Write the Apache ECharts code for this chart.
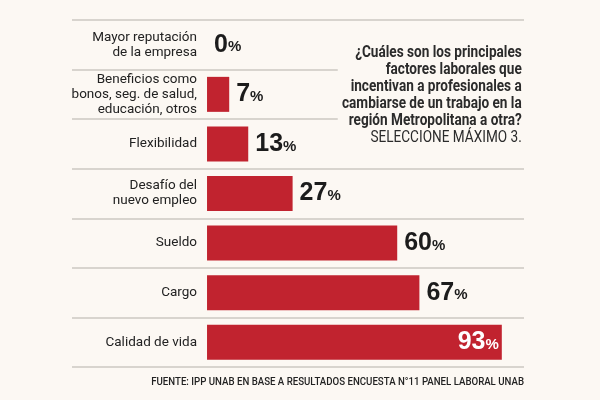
<!DOCTYPE html>
<html>
<head>
<meta charset="utf-8">
<script src="https://cdn.jsdelivr.net/npm/echarts@6/dist/echarts.min.js"></script>
<style>
  html, body { margin: 0; background: #fcf8f3; }
  #chart { width: 600px; height: 400px; }
</style>
</head>
<body>
<div id="chart"></div>
<script>
// datos
const categories = [
  'Mayor reputación\nde la empresa',
  'Beneficios como\nbonos, seg. de salud,\neducación, otros',
  'Flexibilidad',
  'Desafío del\nnuevo empleo',
  'Sueldo',
  'Cargo',
  'Calidad de vida'
]
const values = [0, 7, 13, 27, 60, 67, 93]
const questionLines = [
  '¿Cuáles son los principales',
  'factores laborales que',
  'incentivan a profesionales a',
  'cambiarse de un trabajo en la',
  'región Metropolitana a otra?'
]
const questionNote = 'SELECCIONE MÁXIMO 3.'
const sourceText = 'FUENTE: IPP UNAB EN BASE A RESULTADOS ENCUESTA N°11 PANEL LABORAL UNAB'

const bg = '#fcf8f3'
const chart = echarts.init(document.getElementById('chart'))

const option = {
  backgroundColor: bg,
  grid: { left: 72, right: 76, top: 20, bottom: 33 },
  xAxis: {
    type: 'value',
    min: -42.6,
    max: 100,
    show: false
  },
  yAxis: {
    type: 'category',
    inverse: true,
    data: categories,
    offset: -135,
    axisLine: { show: false },
    axisTick: { show: false },
    splitLine: { show: true, lineStyle: { color: '#cdc8c2', width: 1.5 } },
    axisLabel: {
      margin: 10,
      fontFamily: 'Roboto, sans-serif',
      fontSize: 13.5,
      lineHeight: 15,
      color: '#222',
      align: 'right'
    }
  },
  series: [
    {
      type: 'bar',
      barWidth: 35,
      itemStyle: { color: '#c1232f' },
      label: {
        show: true,
        position: 'right',
        distance: 7,
        formatter: p => '{n|' + p.value + '}{p|%}',
        rich: {
          n: { fontFamily: '"Liberation Sans", sans-serif', fontSize: 25, fontWeight: 'bold', color: '#1c1c1c' },
          p: { fontFamily: '"Liberation Sans", sans-serif', fontSize: 15, fontWeight: 'bold', color: '#1c1c1c', padding: [5, 0, 0, 0] }
        }
      },
      data: values.map(v => v > 90 ? {
        value: v,
        label: {
          position: 'insideRight',
          distance: 3,
          rich: {
            n: { color: '#fff' },
            p: { color: '#fff' }
          }
        }
      } : v)
    }
  ],
  graphic: [
    {
      type: 'text',
      x: 526,
      y: 39,
      scaleX: 0.85,
      z: 10,
      style: {
        text: questionLines.map(l => '{b|' + l + '}').join('\n') + '\n{n|' + questionNote + '}',
        align: 'right',
        verticalAlign: 'top',
        backgroundColor: bg,
        padding: [5, 5, 5, 5],
        rich: {
          b: { fontFamily: 'Roboto, sans-serif', fontSize: 16, fontWeight: 'bold', fill: '#2b2b2b', lineHeight: 17, align: 'right' },
          n: { fontFamily: 'Roboto, sans-serif', fontSize: 16, fill: '#2b2b2b', lineHeight: 17, align: 'right' }
        }
      }
    },
    {
      type: 'text',
      x: 524,
      y: 382,
      scaleX: 0.92,
      style: {
        text: sourceText,
        align: 'right',
        verticalAlign: 'middle',
        font: '500 10.5px Roboto, sans-serif',
        fill: '#222'
      }
    }
  ]
}

chart.setOption(option)
</script>
</body>
</html>
